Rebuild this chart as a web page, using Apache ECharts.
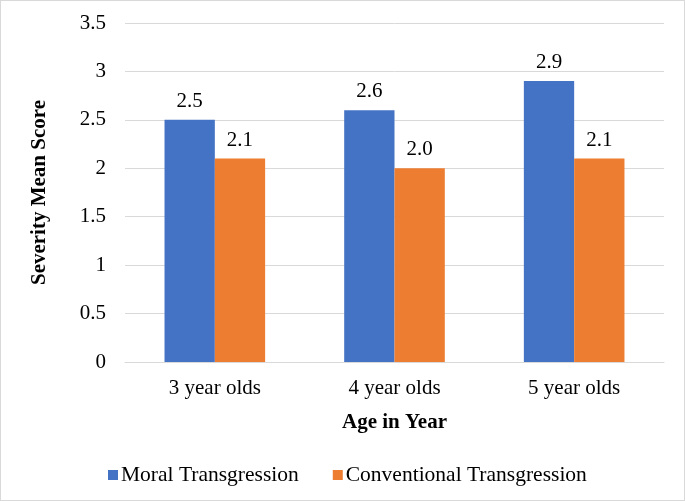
<!DOCTYPE html>
<html><head><meta charset="utf-8">
<script src="https://cdn.jsdelivr.net/npm/echarts@6/dist/echarts.min.js"></script>
<style>html,body{margin:0;padding:0;background:#fff}#c{width:685px;height:501px;box-sizing:border-box;border:1px solid #d9d9d9}</style>
</head><body><div id="c"></div>
<script>
const categories = ['3 year olds', '4 year olds', '5 year olds'];
const moral = [2.5, 2.6, 2.9];
const conventional = [2.1, 2.0, 2.1];
const moralLabels = ['2.5', '2.6', '2.9'];
const conventionalLabels = ['2.1', '2.0', '2.1'];

const F = 'Liberation Serif';
const FS = 21;
const chart = echarts.init(document.getElementById('c'));
chart.setOption({
  animation: false,
  textStyle: { fontFamily: F },
  grid: { left: 124, right: 20, top: 22, bottom: 138, containLabel: false },
  legend: {
    top: 458, left: 102, itemWidth: 10, itemHeight: 10, itemGap: 34,
    icon: 'rect',
    textStyle: { fontFamily: F, fontSize: 21.5, color: '#000', padding: [0, 0, 0, -2] },
    data: ['Moral Transgression', 'Conventional Transgression']
  },
  xAxis: {
    type: 'category', data: categories,
    name: 'Age in Year', nameLocation: 'middle', nameGap: 50,
    nameTextStyle: { fontFamily: F, fontSize: FS, fontWeight: 'bold', color: '#000' },
    axisLine: { lineStyle: { color: '#d9d9d9' } },
    axisTick: { show: false },
    axisLabel: { fontFamily: F, fontSize: FS, color: '#000', margin: 16 }
  },
  yAxis: {
    type: 'value', min: 0, max: 3.5, interval: 0.5,
    name: 'Severity Mean Score', nameLocation: 'middle', nameGap: 75,
    nameTextStyle: { fontFamily: F, fontSize: FS, fontWeight: 'bold', color: '#000' },
    axisLine: { show: false }, axisTick: { show: false },
    splitLine: { lineStyle: { color: '#d9d9d9' } },
    axisLabel: { fontFamily: F, fontSize: FS, color: '#000', margin: 19 }
  },
  series: [
    { name: 'Moral Transgression', type: 'bar', data: moral, barWidth: '28%', barGap: '0%',
      itemStyle: { color: '#4472c4' },
      label: { show: true, position: 'top', distance: 8, fontFamily: F, fontSize: FS, color: '#000',
        formatter: p => moralLabels[p.dataIndex] } },
    { name: 'Conventional Transgression', type: 'bar', data: conventional, barWidth: '28%',
      itemStyle: { color: '#ed7d31' },
      label: { show: true, position: 'top', distance: 8, fontFamily: F, fontSize: FS, color: '#000',
        formatter: p => conventionalLabels[p.dataIndex] } }
  ]
});
</script></body></html>
